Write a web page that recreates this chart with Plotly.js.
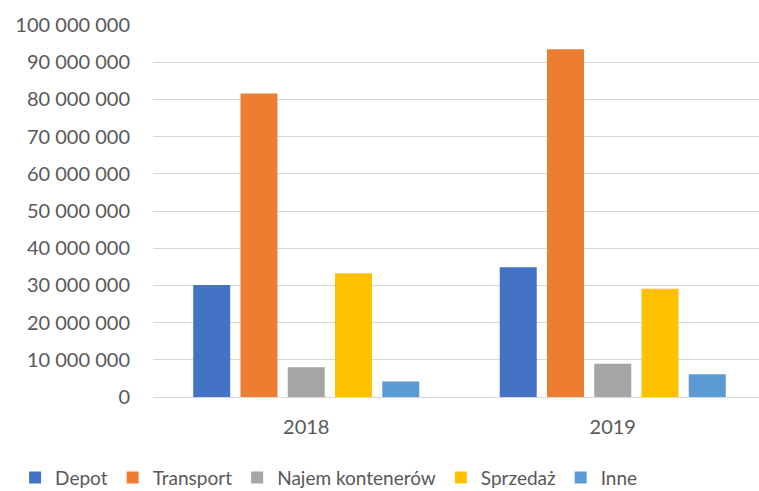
<!DOCTYPE html>
<html>
<head>
<meta charset="utf-8">
<script src="https://cdn.plot.ly/plotly-3.0.1.min.js"></script>
<style>
html,body{margin:0;padding:0;overflow:hidden;background:#fff;}
#chart{width:770px;height:491px;}
</style>
</head>
<body>
<div id="chart"></div>
<script>
const years = ["2018", "2019"];
const seriesNames = ["Depot", "Transport", "Najem kontenerów", "Sprzedaż", "Inne"];
const depot = [30100000, 34900000];
const transport = [81600000, 93500000];
const najem = [8000000, 8950000];
const sprzedaz = [33250000, 29100000];
const inne = [4200000, 6100000];
const colors = ["#4472C4", "#ED7D31", "#A5A5A5", "#FFC000", "#5B9BD5"];
const yTicks = [0, 10000000, 20000000, 30000000, 40000000, 50000000, 60000000, 70000000, 80000000, 90000000, 100000000];

const values = [depot, transport, najem, sprzedaz, inne];
const data = seriesNames.map((n, i) => ({
  type: "bar",
  name: n,
  x: years,
  y: values[i],
  marker: {color: colors[i]},
  hoverinfo: "none"
}));

const font = {family: "Lato, 'Open Sans', sans-serif", size: 20, color: "#595959"};
const legendFont = {family: "Lato, 'Open Sans', sans-serif", size: 19, color: "#595959"};

const layout = {
  width: 770,
  height: 491,
  margin: {l: 153, r: 4, t: 25, b: 94, autoexpand: false},
  paper_bgcolor: "#fff",
  plot_bgcolor: "#fff",
  separators: ", ",
  font: font,
  barmode: "group",
  bargap: 0.229,
  bargroupgap: 0.217,
  showlegend: true,
  legend: {
    orientation: "h",
    x: -0.225, xanchor: "left",
    y: -0.268, yanchor: "bottom",
    font: legendFont,
    traceorder: "normal",
    itemwidth: 30
  },
  xaxis: {
    type: "category",
    tickfont: font,
    showgrid: false,
    showline: false,
    ticks: "",
    zeroline: false,
    automargin: false,
    ticklabelstandoff: 16
  },
  yaxis: {
    range: [0, 100000000],
    tickvals: yTicks,
    tickformat: ",d",
    tickfont: font,
    showgrid: true,
    gridcolor: "#D9D9D9",
    gridwidth: 1,
    zeroline: true,
    zerolinecolor: "#D9D9D9",
    zerolinewidth: 1,
    showline: false,
    ticks: "",
    automargin: false,
    ticklabelstandoff: 22
  }
};

Plotly.newPlot("chart", data, layout, {displayModeBar: false, staticPlot: true});
</script>
</body>
</html>
